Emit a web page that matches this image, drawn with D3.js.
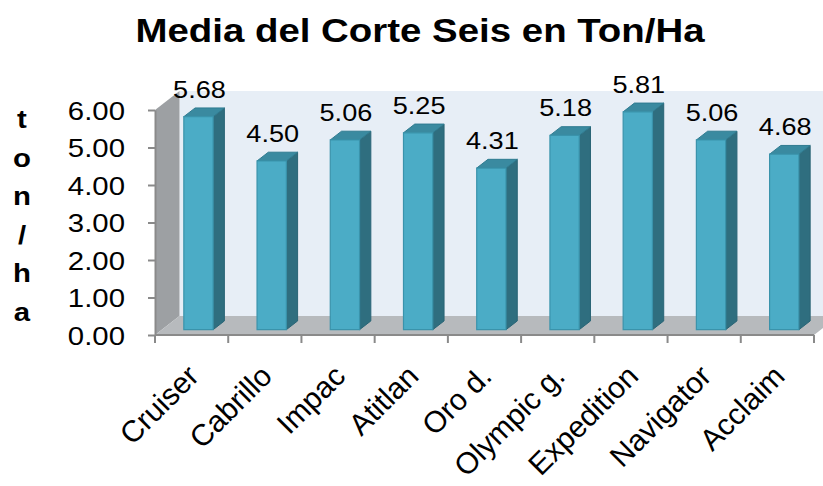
<!DOCTYPE html>
<html>
<head>
<meta charset="utf-8">
<style>
  body { margin: 0; background: #fff; }
  svg { display: block; font-family: Arial, "Liberation Sans", sans-serif; }
</style>
</head>
<body>
<script src="https://cdn.jsdelivr.net/npm/d3@7"></script>
<script>

var categories = ["Cruiser", "Cabrillo", "Impac", "Atitlan", "Oro d.", "Olympic g.", "Expedition", "Navigator", "Acclaim"];
var values = [5.68, 4.50, 5.06, 5.25, 4.31, 5.18, 5.81, 5.06, 4.68];
var yTicks = [0, 1, 2, 3, 4, 5, 6];
var yTitle = "ton/ha";
var title = "Media del Corte Seis en Ton/Ha";

var W = 823, H = 486;
var SX = 1.13;               // the picture is a bit wide, stretch text to match
var depth = {dx: 24.5, dy: -19};
var barDepth = [0.28, 0.74];

var svg = d3.select("body").append("svg")
    .attr("width", W)
    .attr("height", H);

var x = d3.scaleBand().domain(categories).range([155, 814]).paddingInner(0).paddingOuter(0);
var y = d3.scaleLinear().domain([0, 6]).range([335, 110]);

// project a point (px on front plane, value, depth fraction) into the picture
function P(px, v, d) {
  return [px + d * depth.dx, y(v) + d * depth.dy];
}
function poly(pts) { return pts.map(function(p) { return p.join(","); }).join(" "); }

// walls
var x0 = x.range()[0], x1 = x.range()[1];
svg.append("polygon")
    .attr("points", poly([P(x0, 6, 1), P(x1, 6, 1), P(x1, 0, 1), P(x0, 0, 1)]))
    .attr("fill", "#e7eef6");
svg.append("polygon")
    .attr("points", poly([P(x0, 0, 0), P(x0, 6, 0), P(x0, 6, 1), P(x0, 0, 1)]))
    .attr("fill", "#9da0a3");
svg.append("polygon")
    .attr("points", poly([P(x0, 0, 0), P(x1, 0, 0), P(x1, 0, 1), P(x0, 0, 1)]))
    .attr("fill", "#b7babd");

// bars
var bw = x.bandwidth() * 0.4;
var bars = svg.append("g").selectAll("g")
    .data(values)
    .enter().append("g");

bars.each(function(v, i) {
  var g = d3.select(this);
  var cx = x(categories[i]) + x.bandwidth() / 2;
  var l = cx - bw / 2, r = cx + bw / 2;
  var d0 = barDepth[0], d1 = barDepth[1];
  g.append("polygon")
      .attr("points", poly([P(r, 0, d0), P(r, v, d0), P(r, v, d1), P(r, 0, d1)]))
      .attr("fill", "#2f6e7f")
      .attr("stroke", "#2a6576").attr("stroke-width", 1);
  g.append("polygon")
      .attr("points", poly([P(l, v, d0), P(r, v, d0), P(r, v, d1), P(l, v, d1)]))
      .attr("fill", "#3a8aa0")
      .attr("stroke", "#2f7b90").attr("stroke-width", 1);
  g.append("polygon")
      .attr("points", poly([P(l, 0, d0), P(r, 0, d0), P(r, v, d0), P(l, v, d0)]))
      .attr("fill", "#4bacc6")
      .attr("stroke", "#3a93ab").attr("stroke-width", 1.2);
  var t = P(cx, v, d0);
  g.append("text")
      .attr("transform", "translate(" + (t[0] + 1) + "," + (t[1] - 19) + ") scale(" + SX + ",1)")
      .attr("text-anchor", "middle")
      .attr("font-size", 24)
      .attr("fill", "#000")
      .text(v.toFixed(2));
});

// y axis
var yAxis = svg.append("g")
    .attr("transform", "translate(" + x0 + ",0)")
    .call(d3.axisLeft(y).tickValues(yTicks).tickSize(7).tickSizeOuter(0).tickFormat(d3.format(".2f")));
yAxis.select(".domain").attr("stroke", "#8a8a8a").attr("stroke-width", 2);
yAxis.selectAll(".tick line").attr("stroke", "#8a8a8a").attr("stroke-width", 2);
yAxis.selectAll(".tick text")
    .attr("x", null).attr("dy", null)
    .attr("font-size", 26)
    .attr("fill", "#000")
    .attr("text-anchor", "end")
    .attr("transform", "translate(-30,9) scale(" + SX + ",1)");

// x axis: line on the floor front with ticks between categories
var xa = svg.append("g");
xa.append("line")
    .attr("x1", x0).attr("x2", x1)
    .attr("y1", y(0)).attr("y2", y(0))
    .attr("stroke", "#8a8a8a").attr("stroke-width", 2);
xa.selectAll(".tk")
    .data(categories.map(function(c) { return x(c); }).concat([x1]))
    .enter().append("line")
    .attr("x1", function(d) { return d; }).attr("x2", function(d) { return d; })
    .attr("y1", y(0)).attr("y2", y(0) + 8)
    .attr("stroke", "#8a8a8a").attr("stroke-width", 2);
xa.selectAll("text")
    .data(categories)
    .enter().append("text")
    .attr("transform", function(d) {
      return "translate(" + (x(d) + x.bandwidth() / 2 + 9) + ",378) rotate(-45)";
    })
    .attr("text-anchor", "end")
    .attr("font-size", 30)
    .attr("fill", "#000")
    .text(function(d) { return d; });

// vertical axis title, one letter per line
svg.append("g").selectAll("text")
    .data(yTitle.split(""))
    .enter().append("text")
    .attr("transform", function(d, i) { return "translate(22," + (128 + i * 38.6) + ") scale(" + SX + ",1)"; })
    .attr("text-anchor", "middle")
    .attr("font-size", 26)
    .attr("font-weight", "bold")
    .text(function(d) { return d; });

svg.append("text")
    .attr("transform", "translate(420,42) scale(" + SX + ",1)")
    .attr("text-anchor", "middle")
    .attr("font-size", 34)
    .attr("font-weight", "bold")
    .text(title);

</script>
</body>
</html>
